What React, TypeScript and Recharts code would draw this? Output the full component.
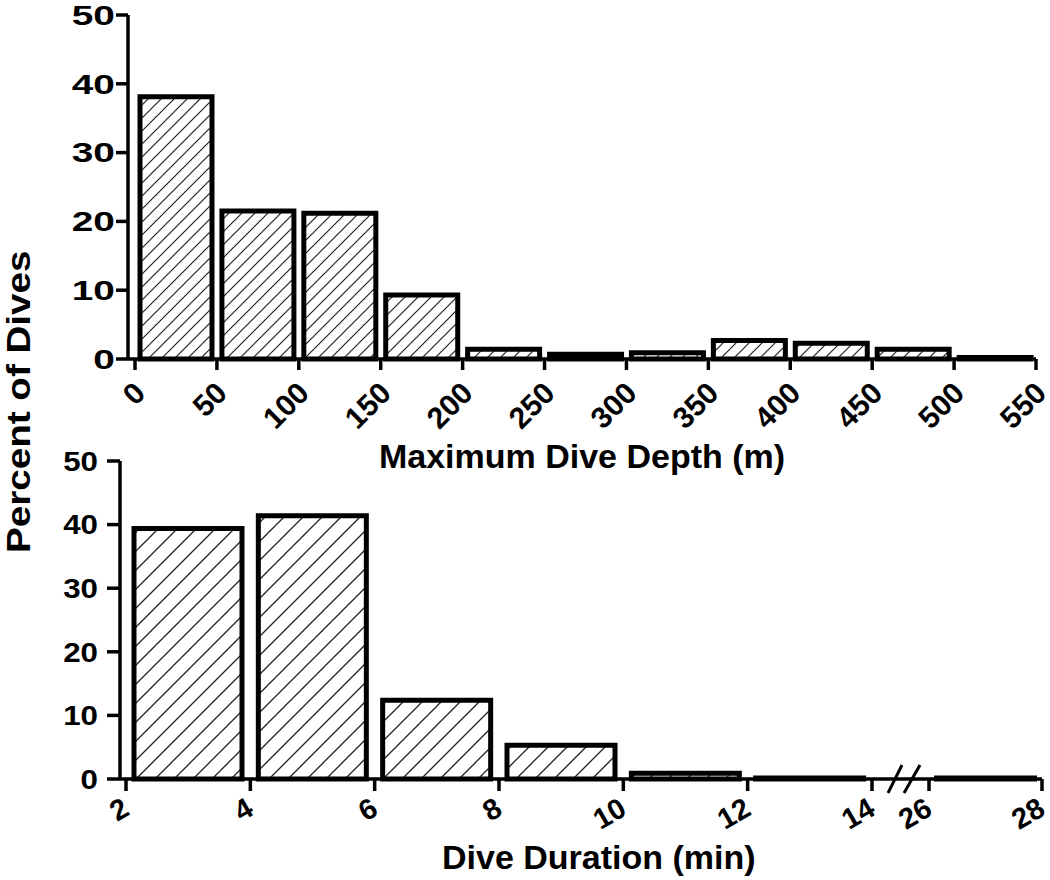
import React from "react";
import { BarChart, Bar, XAxis, YAxis } from "recharts";

// bin edges (tick labels) and percent of dives per bin
const depthTicks = [0, 50, 100, 150, 200, 250, 300, 350, 400, 450, 500, 550];
const depthPercent = [38.1, 21.5, 21.2, 9.3, 1.4, 0.7, 0.9, 2.7, 2.3, 1.4, 0.2];

const durationTicks = [2, 4, 6, 8, 10, 12, 14];
const durationPercent = [39.4, 41.4, 12.4, 5.3, 0.9, 0.15];

// after the axis break
const longTicks = [26, 28];
const longPercent = [0.15];

const percentTicks = [0, 10, 20, 30, 40, 50];

const toBins = (edges: number[], values: number[]) =>
  values.map((pct, i) => ({ mid: (edges[i] + edges[i + 1]) / 2, pct }));

const depthData = toBins(depthTicks, depthPercent);
const durationData = toBins(durationTicks, durationPercent);
const longData = toBins(longTicks, longPercent);

const FONT = '"Liberation Sans", Arial, Helvetica, sans-serif';
const axisStyle = { stroke: "#000", strokeWidth: 3.5 };

function makeYTick(stretch: number) {
  return (props: any) => {
    const { x, y, payload } = props;
    return (
      <g transform={`translate(${x},${y}) scale(${stretch},1)`}>
        <text
          x={0}
          y={0}
          dy="0.36em"
          textAnchor="end"
          fontFamily={FONT}
          fontWeight="bold"
          fontSize={27}
          fill="#000"
        >
          {payload.value}
        </text>
      </g>
    );
  };
}

function makeXTick(angle: number, dx: number, dy: number, size: number) {
  return (props: any) => {
    const { x, y, payload } = props;
    return (
      <g transform={`translate(${x + dx},${y + dy}) rotate(${angle})`}>
        <text
          x={0}
          y={0}
          textAnchor="end"
          fontFamily={FONT}
          fontWeight="bold"
          fontSize={size}
          fill="#000"
        >
          {payload.value}
        </text>
      </g>
    );
  };
}

const TopYTick = makeYTick(1.44);
const BottomYTick = makeYTick(1.16);
const DepthTick = makeXTick(-45, 12, 25, 30);
const DurationTick = makeXTick(-30, 5, 23, 29);

export default function App() {
  return (
    <div
      style={{
        position: "absolute",
        left: 0,
        top: 0,
        width: 1050,
        height: 880,
        background: "#fff",
        overflow: "hidden",
      }}
    >
      <div style={{ position: "absolute", left: 0, top: 0 }}>
        <BarChart
          width={1050}
          height={480}
          data={depthData}
          margin={{ top: 15, right: 14, left: 0, bottom: 0 }}
        >
          <XAxis
            dataKey="mid"
            type="number"
            domain={[0, 550]}
            ticks={depthTicks}
            interval={0}
            padding={{ left: 7, right: 0 }}
            height={121}
            tickSize={11}
            tickMargin={0}
            tick={DepthTick}
            axisLine={axisStyle}
            tickLine={axisStyle}
            label={{
              value: "Maximum Dive Depth (m)",
              position: "insideBottom",
              offset: 12,
              fill: "#000",
              fontSize: 34,
              fontWeight: "bold",
              fontFamily: FONT,
            }}
          />
          <YAxis
            type="number"
            domain={[0, 50]}
            ticks={percentTicks}
            interval={0}
            width={128}
            tickSize={12}
            tickMargin={1}
            tick={TopYTick}
            axisLine={axisStyle}
            tickLine={axisStyle}
          />
          <Bar
            dataKey="pct"
            barSize={72}
            fill="url(#hatchTop)"
            stroke="#000"
            strokeWidth={5}
            isAnimationActive={false}
          />
        </BarChart>
      </div>

      <div style={{ position: "absolute", left: 0, top: 440 }}>
        <BarChart
          width={900}
          height={440}
          data={durationData}
          margin={{ top: 21, right: 28, left: 0, bottom: 0 }}
        >
          <XAxis
            dataKey="mid"
            type="number"
            domain={[2, 14]}
            ticks={durationTicks}
            interval={0}
            padding={{ left: 6, right: 0 }}
            height={101}
            tickSize={12}
            tickMargin={0}
            tick={DurationTick}
            axisLine={axisStyle}
            tickLine={axisStyle}
          />
          <YAxis
            type="number"
            domain={[0, 50]}
            ticks={percentTicks}
            interval={0}
            width={120}
            tickSize={13}
            tickMargin={9}
            tick={BottomYTick}
            axisLine={axisStyle}
            tickLine={axisStyle}
          />
          <Bar
            dataKey="pct"
            barSize={108}
            fill="url(#hatchBottom)"
            stroke="#000"
            strokeWidth={5}
            isAnimationActive={false}
          />
        </BarChart>
      </div>

      <div style={{ position: "absolute", left: 872, top: 440 }}>
        <BarChart
          width={178}
          height={440}
          data={longData}
          margin={{ top: 21, right: 8, left: 0, bottom: 0 }}
        >
          <XAxis
            dataKey="mid"
            type="number"
            domain={[26, 28]}
            ticks={longTicks}
            interval={0}
            padding={{ left: 57, right: 0 }}
            height={101}
            tickSize={12}
            tickMargin={0}
            tick={DurationTick}
            axisLine={axisStyle}
            tickLine={axisStyle}
          />
          <YAxis hide type="number" domain={[0, 50]} />
          <Bar
            dataKey="pct"
            barSize={98}
            fill="url(#hatchBottom)"
            stroke="#000"
            strokeWidth={5}
            isAnimationActive={false}
          />
        </BarChart>
      </div>

      <svg
        width={1050}
        height={880}
        style={{ position: "absolute", left: 0, top: 0, pointerEvents: "none" }}
      >
        <defs>
          <pattern id="hatchTop" width={13} height={13} patternUnits="userSpaceOnUse">
            <rect width={13} height={13} fill="#fff" />
            <path d="M0,13 L13,0 M-3,3 L3,-3 M10,16 L16,10" stroke="#222" strokeWidth={1.2} />
          </pattern>
          <pattern id="hatchBottom" width={19} height={19} patternUnits="userSpaceOnUse">
            <rect width={19} height={19} fill="#fff" />
            <path d="M0,19 L19,0 M-3,3 L3,-3 M16,22 L22,16" stroke="#222" strokeWidth={1.3} />
          </pattern>
        </defs>
        <text
          transform="translate(30,553) rotate(-90) scale(1.17,1)"
          textAnchor="start"
          fontFamily={FONT}
          fontWeight="bold"
          fontSize={33}
          fill="#000"
        >
          Percent of Dives
        </text>
        <text
          x={442}
          y={869}
          textAnchor="start"
          fontFamily={FONT}
          fontWeight="bold"
          fontSize={34}
          fill="#000"
        >
          Dive Duration (min)
        </text>
        {/* axis break marks */}
        <line x1={888} y1={793} x2={902} y2={765} stroke="#000" strokeWidth={3} />
        <line x1={904} y1={793} x2={920} y2={765} stroke="#000" strokeWidth={3} />
      </svg>
    </div>
  );
}
